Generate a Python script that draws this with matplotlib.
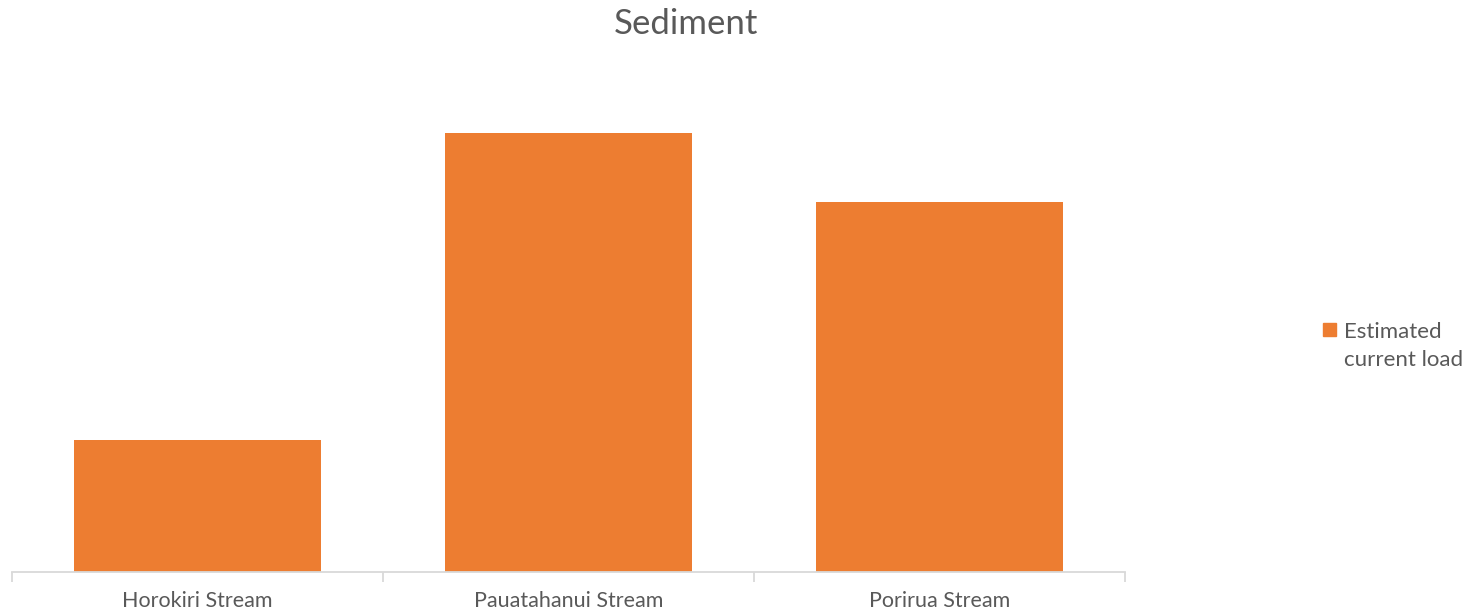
import matplotlib
matplotlib.use("Agg")
import matplotlib.pyplot as plt
from matplotlib.patches import Patch, Rectangle
from matplotlib.legend_handler import HandlerPatch

categories = ["Horokiri Stream", "Pauatahanui Stream", "Porirua Stream"]
values = [132, 439, 370]
series_name = "Estimated\ncurrent load"

plt.rcParams['font.family'] = ['Lato', 'DejaVu Sans']
txt = "#595959"
bar_color = "#ED7D31"

fig = plt.figure(figsize=(14.7, 6.14), dpi=100)
ax = fig.add_axes([12/1470, 42/614, (1125-12)/1470, 512/614])
x = list(range(len(categories)))
ax.bar(x, values, width=0.665, color=bar_color, zorder=2)
ax.set_xlim(-0.5, len(categories) - 0.5)
ax.set_ylim(0, 512)
for s in ["top", "right", "left"]:
    ax.spines[s].set_visible(False)
ax.spines["bottom"].set_color("#D9D9D9")
ax.spines["bottom"].set_linewidth(1.3)
ax.set_yticks([])
ax.set_xticks([i - 0.5 for i in range(len(categories) + 1)])
ax.set_xticklabels([])
ax.set_xticks(x, minor=True)
ax.set_xticklabels(categories, minor=True, fontsize=15.5, color=txt)
ax.tick_params(axis="x", which="major", length=7, width=1.3, color="#D9D9D9")
ax.tick_params(axis="x", which="minor", length=0, pad=14)

fig.text(686/1470, 1 - 24/614, "Sediment", ha="center", va="center", fontsize=25, color=txt)


def make_patch(legend, orig_handle, xdescent, ydescent, width, height, fontsize):
    s = 13 * 72 / 100
    return Rectangle((-xdescent, -ydescent + height / 2 - s / 2 + 0.75 * fontsize), s, s)


leg = fig.legend(handles=[Patch(color=bar_color, label=series_name)],
                 loc="center left", bbox_to_anchor=(1323/1470, 1 - 346/614),
                 frameon=False, fontsize=16, handlelength=0.7, handleheight=0.7,
                 handletextpad=0.25, borderpad=0, borderaxespad=0, labelcolor=txt,
                 handler_map={Patch: HandlerPatch(patch_func=make_patch)})
for t in leg.get_texts():
    t.set_linespacing(1.55)

fig.savefig("out.png", dpi=100)
